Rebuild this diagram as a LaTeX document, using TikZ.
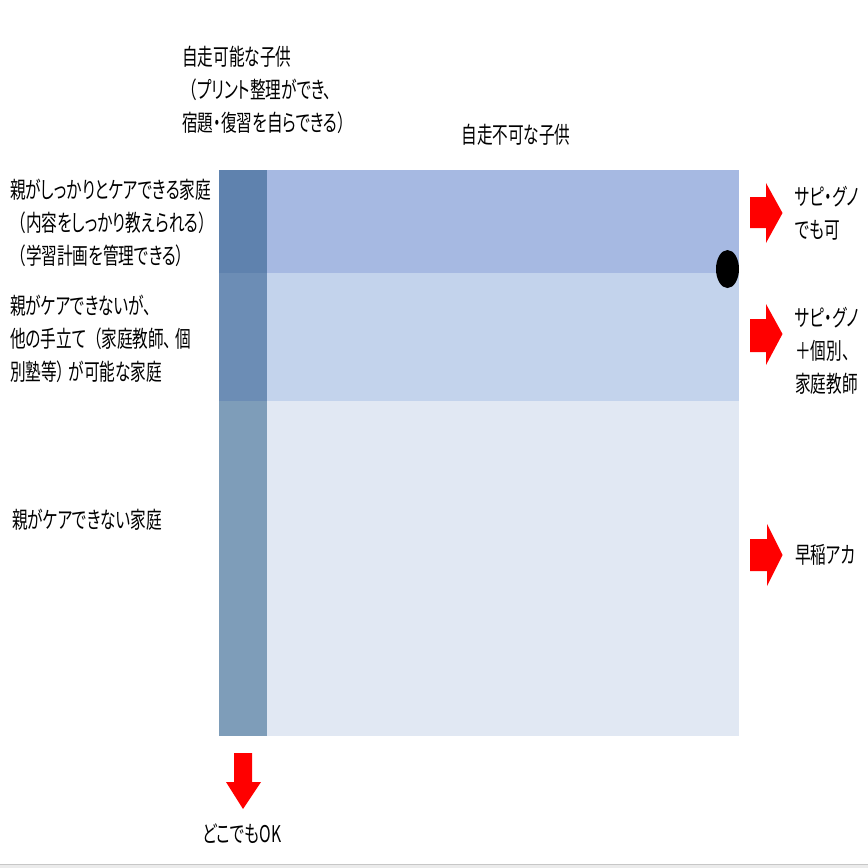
\documentclass[tikz,border=0pt]{standalone}
\usepackage{fontspec}
\newfontfamily\jp[FakeStretch=0.68,RawFeature=+palt]{Noto Sans CJK JP}
\definecolor{rowA}{RGB}{166,185,226}
\definecolor{rowB}{RGB}{195,211,236}
\definecolor{rowC}{RGB}{225,232,243}
\definecolor{colA}{RGB}{95,130,174}
\definecolor{colB}{RGB}{108,141,181}
\definecolor{colC}{RGB}{126,157,185}
\definecolor{arrowred}{RGB}{255,0,0}
\tikzset{
  lbl/.style={inner sep=0pt, align=left, anchor=west, font=\jp\fontsize{23}{33}\selectfont},
  ctr/.style={inner sep=0pt, align=center, font=\jp\fontsize{23}{33}\selectfont},
  redarrow/.style={fill=arrowred, draw=none},
}
\begin{document}
\begin{tikzpicture}[x=1pt,y=-1pt]
\useasboundingbox (0,0) rectangle (868,868);
\fill[white] (0,0) rectangle (868,868);
% bottom strip
\fill[black!8] (0,864) rectangle (868,868);
\draw[black!22, line width=1pt] (0,864) -- (868,864);
% grid
\fill[rowA] (219,170) rectangle (739,273);
\fill[rowB] (219,273) rectangle (739,401);
\fill[rowC] (219,401) rectangle (739,736);
\fill[colA] (219,170) rectangle (267,273);
\fill[colB] (219,273) rectangle (267,401);
\fill[colC] (219,401) rectangle (267,736);
% dot
\fill[black] (727.5,269) ellipse [x radius=11.5, y radius=19];
% right arrows
\fill[redarrow] (750,197) -- (766,197) -- (766,183) -- (782.5,213) -- (766,243) -- (766,228) -- (750,228) -- cycle;
\fill[redarrow] (750,319) -- (766,319) -- (766,304) -- (782.5,334) -- (766,365) -- (766,352) -- (750,352) -- cycle;
\fill[redarrow] (750,539) -- (767,539) -- (767,524) -- (782.5,555) -- (767,586) -- (767,571) -- (750,571) -- cycle;
% down arrow
\fill[redarrow] (234,753) -- (252,753) -- (252,782) -- (261,782) -- (243,809) -- (226,782) -- (234,782) -- cycle;
% texts
\node[lbl] (top) at (182,90) {自走可能な子供\\\hspace*{7pt}（プリント整理ができ、\\宿題・復習を自らできる）};
\node[ctr] (notself) at (516,135) {自走不可な子供};
\node[lbl] (fam1) at (10,223) {親がしっかりとケアできる家庭\\\hspace*{8pt}（内容をしっかり教えられる）\\\hspace*{8pt}（学習計画を管理できる）};
\node[lbl] (fam2) at (10,339) {親がケアできないが、\\他の手立て\hspace{7pt}（家庭教師、\hspace{4pt}個\\別塾等）\hspace{4pt}が可能な家庭};
\node[lbl] (fam3) at (12,520) {親がケアできない家庭};
\node[lbl] (r1) at (795,213.5) {サピ・グノ\\でも可};
\node[lbl] (r2) at (795,351) {サピ・グノ\\＋個別、\\家庭教師};
\node[lbl] (r3) at (795,555) {早稲アカ};
\node[ctr] (ok) at (242,834) {どこでもOK};
\end{tikzpicture}
\end{document}
